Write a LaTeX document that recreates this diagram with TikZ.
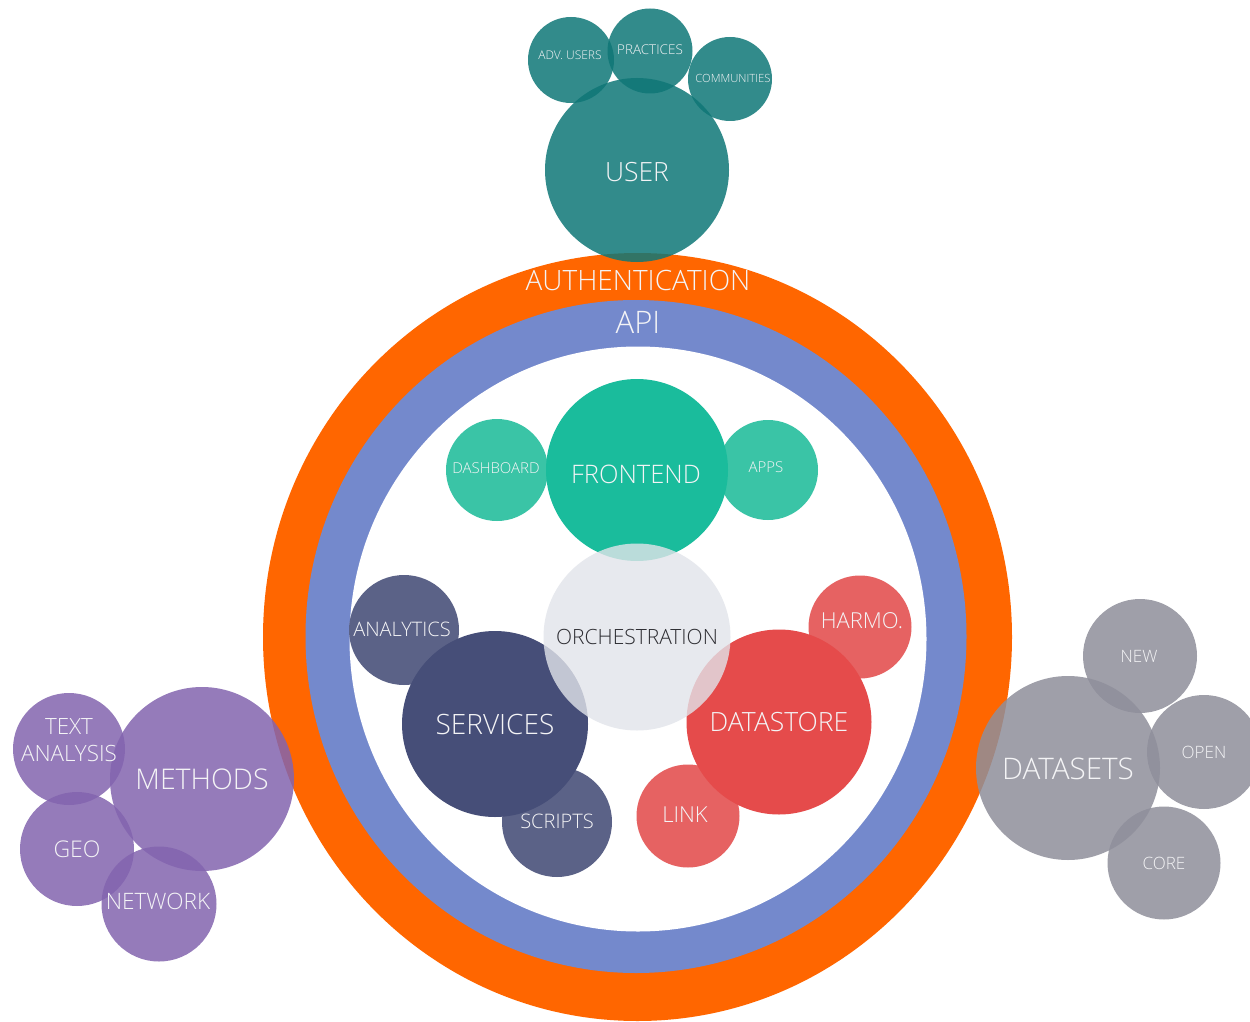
\documentclass[tikz,border=0pt]{standalone}
\usepackage{fontspec}
\IfFontExistsTF{Open Sans Light}{\setmainfont{Open Sans Light}}{\setmainfont{Open Sans}}
\newcommand\myfs[1]{\fontsize{#1}{#1}\selectfont}
\definecolor{ringorange}{RGB}{255,102,0}
\definecolor{ringblue}{RGB}{116,137,204}
\definecolor{tealc}{RGB}{15,119,119}
\definecolor{purplec}{RGB}{131,100,175}
\definecolor{greyc}{RGB}{143,143,155}
\definecolor{frontc}{RGB}{26,188,156}
\definecolor{frontlight}{RGB}{58,196,166}
\definecolor{servc}{RGB}{70,78,120}
\definecolor{servlight}{RGB}{91,98,135}
\definecolor{storec}{RGB}{229,75,75}
\definecolor{storelight}{RGB}{230,98,98}
\definecolor{orchc}{RGB}{226,228,234}
\definecolor{txtc}{RGB}{244,244,246}
\definecolor{darktxt}{RGB}{45,45,50}
\begin{document}
\begin{tikzpicture}[x=1pt,y=-1pt,
  bub/.style={circle, inner sep=0pt, draw=none, minimum size=#1},
  semi/.style={fill opacity=0.85},
  lbl/.style={text=txtc, inner sep=0pt, align=center}]
\useasboundingbox (0,0) rectangle (1250,1022);
\fill[white] (0,0) rectangle (1250,1022);
% rings
\fill[ringorange] (637.5,637) ellipse [x radius=374.5, y radius=384];
\fill[ringblue] (636,636.5) ellipse [x radius=330.5, y radius=336.5];
\fill[white] (638,639) ellipse [x radius=288.5, y radius=292.5];
\node[lbl, font=\myfs{28}] (auth) at (638,280) {AUTHENTICATION};
\node[lbl, font=\myfs{31}] (api) at (638,322) {API};
% user cluster
\node[bub=86pt, fill=tealc, semi] (advusers) at (571,60) {};
\node[bub=85pt, fill=tealc, semi] (practices) at (650,51) {};
\node[bub=84pt, fill=tealc, semi] (communities) at (730,79) {};
\node[bub=184pt, fill=tealc, semi] (user) at (637,170) {};
\node[lbl, font=\myfs{12}] at (570,55) {ADV. USERS};
\node[lbl, font=\myfs{13.5}] at (650,50) {PRACTICES};
\node[lbl, font=\myfs{11.3}] at (733,78) {COMMUNITIES};
\node[lbl, font=\myfs{26.5}] at (637,172) {USER};
% methods cluster
\node[bub=112pt, fill=purplec, semi] (textan) at (69,749) {};
\node[bub=114pt, fill=purplec, semi] (geo) at (77,849) {};
\node[bub=184pt, fill=purplec, semi] (methods) at (202,779) {};
\node[bub=115pt, fill=purplec, semi] (network) at (159,904) {};
\node[lbl, font=\myfs{22.4}, align=center] at (69,740) {TEXT\\[5pt]ANALYSIS};
\node[lbl, font=\myfs{23}] at (77,849) {GEO};
\node[lbl, font=\myfs{28.5}] at (202,779) {METHODS};
\node[lbl, font=\myfs{22.6}] at (158,901) {NETWORK};
% datasets cluster
\node[bub=114pt, fill=greyc, semi] (new) at (1140,656) {};
\node[bub=114pt, fill=greyc, semi] (open) at (1204,752) {};
\node[bub=113pt, fill=greyc, semi] (core) at (1164,863) {};
\node[bub=184pt, fill=greyc, semi] (datasets) at (1068,768) {};
\node[lbl, font=\myfs{17}] at (1139,656) {NEW};
\node[lbl, font=\myfs{17}] at (1204,752) {OPEN};
\node[lbl, font=\myfs{17}] at (1164,863) {CORE};
\node[lbl, font=\myfs{29.7}] at (1068,769) {DATASETS};
% frontend
\node[bub=102pt, fill=frontlight] (dashboard) at (497,470) {};
\node[bub=100pt, fill=frontlight] (apps) at (768,470) {};
\node[bub=182pt, fill=frontc] (frontend) at (637,470) {};
\node[lbl, font=\myfs{15}] at (496,468) {DASHBOARD};
\node[lbl, font=\myfs{15}] at (766,467) {APPS};
\node[lbl, font=\myfs{25.5}] at (636,474) {FRONTEND};
% services
\node[bub=110pt, fill=servlight] (analytics) at (404,630) {};
\node[bub=110pt, fill=servlight] (scripts) at (557,822) {};
\node[bub=186pt, fill=servc] (services) at (495,724) {};
\node[lbl, font=\myfs{20}] at (402,629) {ANALYTICS};
\node[lbl, font=\myfs{20}] at (557,821) {SCRIPTS};
\node[lbl, font=\myfs{28}] at (495,724) {SERVICES};
% datastore
\node[bub=103pt, fill=storelight] (harmo) at (860,627) {};
\node[bub=103pt, fill=storelight] (link) at (688,816) {};
\node[bub=185pt, fill=storec] (datastore) at (779,722) {};
\node[lbl, font=\myfs{22}] at (862,621) {HARMO.};
\node[lbl, font=\myfs{22}] at (685,815) {LINK};
\node[lbl, font=\myfs{26.5}] at (779,722) {DATASTORE};
% orchestration
\node[bub=187pt, fill=orchc, fill opacity=0.8] (orch) at (637,637) {};
\node[lbl, text=darktxt, font=\myfs{21}] at (637,637) {ORCHESTRATION};
\end{tikzpicture}
\end{document}
